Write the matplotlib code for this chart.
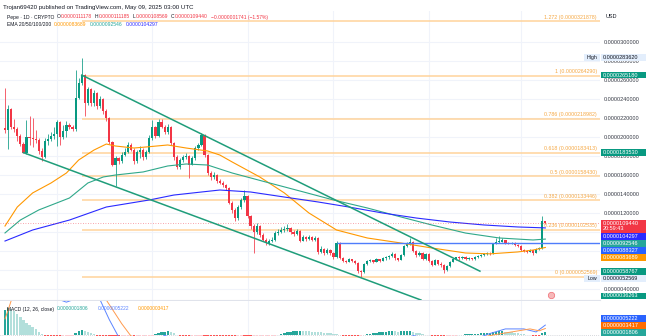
import matplotlib
matplotlib.use("Agg")
import matplotlib.pyplot as plt
import matplotlib.transforms as mtransforms
from matplotlib.patches import Rectangle
import numpy as np
import pandas as pd

plt.rcParams["font.family"] = ["Liberation Sans", "DejaVu Sans"]

# Pepe daily candles, prices in millionths of USD (11.1178 -> 0.0000111178)
first_open = 20.9
closes = [
    20.7, 22.9, 21.0, 20.8, 20.1, 19.3, 18.3, 20.0, 19.9, 19.8,
    19.7, 18.5, 17.9, 19.6, 19.8, 20.1, 20.3, 21.6, 20.0, 20.6,
    21.3, 21.0, 20.8, 24.1, 25.7, 26.5, 23.6, 25.0, 23.6, 24.6,
    23.3, 24.0, 22.7, 22.0, 19.5, 17.1, 17.8, 17.5, 18.1, 18.4,
    19.2, 18.6, 17.5, 18.4, 18.6, 17.9, 18.4, 19.9, 21.0, 20.1,
    21.6, 21.1, 20.5, 21.1, 19.4, 17.9, 16.8, 17.6, 17.9, 18.0,
    17.1, 17.8, 18.8, 19.2, 20.2, 18.1, 16.2, 15.8, 16.0, 15.4,
    15.2, 14.9, 14.6, 13.1, 12.3, 11.5, 12.6, 13.4, 13.8, 11.7,
    10.6, 10.0, 10.6, 9.7, 9.2, 8.8, 9.1, 9.2, 9.9, 10.0,
    10.2, 10.3, 10.4, 10.0, 9.8, 10.1, 9.1, 9.5, 9.3, 9.5,
    9.2, 9.4, 7.9, 8.2, 7.8, 8.1, 7.8, 7.4, 8.83, 7.3,
    6.95, 6.85, 7.15, 6.95, 6.75, 5.9, 5.8, 6.6, 6.95, 7.05,
    6.85, 7.15, 6.95, 7.25, 7.35, 7.45, 7.7, 7.25, 7.05, 7.6,
    8.5, 8.75, 8.95, 8.0, 7.6, 7.8, 7.15, 7.7, 6.95, 6.55,
    7.05, 6.65, 6.5, 6.0, 6.4, 6.85, 7.15, 7.35, 7.25, 7.4,
    7.15, 7.25, 7.15, 7.35, 7.45, 7.55, 7.7, 7.8, 7.75, 8.75,
    8.95, 8.95, 9.15, 8.85, 8.8, 8.85, 8.65, 8.55, 8.1, 8.0,
    7.9, 8.1, 7.8, 8.2, 8.3, 11.1178, 10.944,
]
highs = [
    25.2, 23.4, 23.1, 21.9, 21.0, 20.3, 19.5, 21.8, 22.2, 22.0,
    20.7, 19.9, 18.8, 19.9, 20.3, 20.5, 21.1, 21.8, 21.7, 21.3,
    21.7, 21.5, 21.3, 27.0, 26.2, 28.362, 26.6, 25.3, 25.2, 24.9,
    24.7, 24.3, 24.1, 22.9, 22.1, 19.6, 18.0, 17.9, 18.4, 18.8,
    19.5, 19.4, 18.8, 18.6, 19.0, 18.8, 18.6, 20.2, 21.8, 21.2,
    21.9, 21.9, 21.3, 21.4, 21.2, 19.5, 18.1, 17.8, 18.1, 18.3,
    18.1, 18.0, 19.0, 19.4, 20.4, 20.3, 18.2, 16.4, 16.3, 16.1,
    15.6, 15.4, 15.1, 14.7, 13.3, 12.5, 12.8, 13.6, 14.4, 13.9,
    11.8, 10.8, 10.9, 10.7, 9.9, 9.4, 9.3, 9.5, 10.1, 10.3,
    10.5, 10.6, 10.8, 10.5, 10.2, 10.3, 10.2, 9.7, 9.6, 9.7,
    9.6, 9.6, 9.5, 8.5, 8.3, 8.3, 8.2, 7.9, 9.0, 8.9,
    7.4, 7.1, 7.3, 7.2, 7.0, 6.8, 6.0, 6.7, 7.1, 7.2,
    7.1, 7.3, 7.2, 7.4, 7.5, 7.6, 7.9, 7.8, 7.3, 7.7,
    8.6, 8.9, 9.4, 9.0, 8.1, 8.0, 7.9, 7.8, 7.75, 7.0,
    7.2, 7.1, 6.8, 6.6, 6.5, 6.9, 7.2, 7.4, 7.45, 7.5,
    7.45, 7.35, 7.3, 7.45, 7.55, 7.65, 7.8, 7.9, 7.9, 8.85,
    9.4, 9.6, 9.4, 9.2, 8.95, 8.95, 8.9, 8.7, 8.6, 8.2,
    8.1, 8.2, 8.15, 8.3, 8.45, 11.7, 11.1185,
]
lows = [
    20.4, 18.7, 20.8, 20.5, 19.6, 19.0, 18.35, 18.2, 19.2, 18.9,
    19.4, 18.2, 17.5, 17.8, 19.2, 19.6, 19.8, 19.0, 19.2, 19.8,
    20.0, 20.8, 20.6, 20.6, 24.0, 25.5, 22.2, 23.4, 23.3, 23.3,
    22.9, 23.0, 22.4, 21.7, 19.3, 16.9, 14.8, 17.2, 17.3, 18.0,
    18.3, 18.5, 17.2, 17.3, 17.8, 17.6, 17.7, 18.3, 19.7, 19.9,
    20.0, 20.9, 20.3, 20.3, 19.2, 17.6, 16.6, 16.6, 17.4, 17.7,
    15.7, 17.0, 17.6, 18.6, 19.0, 17.9, 16.0, 15.5, 15.6, 15.2,
    15.0, 14.7, 14.4, 12.9, 12.0, 11.2, 11.3, 12.4, 13.2, 11.5,
    10.3, 7.8, 9.8, 9.5, 9.0, 8.6, 8.6, 8.9, 9.1, 9.7,
    9.9, 10.0, 10.1, 9.8, 9.6, 9.7, 8.9, 9.0, 9.1, 9.2,
    9.0, 9.1, 7.7, 7.8, 7.6, 7.7, 7.6, 7.2, 7.3, 7.2,
    6.8, 6.7, 6.8, 6.8, 6.6, 5.7, 5.2569, 5.7, 6.5, 6.8,
    6.7, 6.8, 6.8, 6.9, 7.1, 7.2, 7.4, 7.1, 6.9, 7.0,
    7.5, 8.4, 8.6, 7.9, 7.4, 7.5, 7.0, 7.1, 6.8, 6.4,
    6.5, 6.5, 6.3, 5.7, 5.9, 6.3, 6.8, 7.1, 7.1, 7.2,
    7.05, 7.05, 7.05, 7.1, 7.3, 7.4, 7.5, 7.6, 7.6, 7.7,
    8.7, 8.8, 8.9, 8.75, 8.7, 8.7, 8.55, 8.4, 8.0, 7.9,
    7.8, 7.85, 7.6, 7.75, 8.1, 8.2, 10.8569,
]
dates = pd.date_range("2024-11-14", periods=len(closes), freq="D")

# EMA lines read at sample days (index of the candle)
ema50_days = [0, 4, 9, 15, 20, 24, 29, 33, 36, 42, 46, 53, 59, 66, 70, 74,
              83, 91, 99, 108, 118, 129, 139, 150, 158, 167, 172, 176]
ema50 = [10.63, 12.63, 14.11, 15.16, 16.21, 17.58, 18.63, 19.26, 19.05, 18.84,
         18.95, 19.16, 18.84, 18.53, 18.1, 17.37, 15.79, 14.11, 12.0, 10.21,
         9.37, 8.84, 8.32, 7.79, 7.7, 7.9, 8.1, 8.3689]
ema100_days = [0, 5, 11, 21, 27, 32, 36, 45, 53, 59, 66, 74, 85, 96, 107,
               118, 129, 139, 150, 161, 172, 176]
ema100 = [9.9, 11.26, 12.32, 13.58, 15.16, 15.79, 16.0, 16.32, 16.95, 17.16,
          17.05, 16.21, 15.26, 14.32, 13.37, 12.53, 11.58, 10.74, 9.89, 9.37,
          9.16, 9.2546]
ema200_days = [0, 9, 21, 33, 47, 55, 64, 70, 80, 91, 102, 112, 123, 134,
               145, 156, 167, 176]
ema200 = [9.05, 10.21, 11.26, 12.63, 13.37, 13.89, 14.21, 14.42, 14.21, 13.68,
          13.16, 12.63, 12.0, 11.47, 11.05, 10.74, 10.53, 10.4297]

# drawings
fib_ratios = [1.272, 1, 0.786, 0.618, 0.5, 0.382, 0.236, 0]
fib_prices = [32.1878, 26.429, 21.8982, 18.3413, 15.843, 13.3446, 10.2535, 5.2569]
fib_start_day = 25
upper_line_days = [25, 154.7]
upper_line_prices = [26.518, 5.8767]
lower_line_days = [6, 135.5]
lower_line_prices = [18.353, 2.84]
hline_day = 108
hline_price = 8.8327
last_price = 10.944

# MACD (12, 26, close), units of 1e-7
macd_hist = [
    13, 14, 13.5, 12.5, 11, 9.5, 8, 6.5, 5, 4,
    3, 1.8, 0.6, -0.5, -1, -1.5, -1.8, -2, -2.2, -2,
    -1.8, -1.5, -1, 1.1, 1.9, 2.4, 1.9, 1.6, 1.0, 0.4,
    -0.3, -0.8, -1.5, -2.2, -3, -3.8, -4, -4, -3.8, -3.4,
    -3, -2.8, -2.8, -2.5, -2.2, -2, -1.7, -1.2, -0.5, 0.4,
    1.1, 1.5, 1.8, 2.1, 1.6, 1.0, 0.2, -0.5, -0.9, -1.1,
    -1.3, -1.2, -1, -0.8, -0.3, -0.6, -1.5, -2.5, -3.2, -3.8,
    -4.2, -4.5, -5, -5.5, -6, -6.5, -6.3, -6, -6.2, -6.8,
    -6.8, -6.5, -5.8, -5.0, -4.2, -3.4, -2.5, -1.6, -0.7, 0.2,
    0.7, 1.1, 1.5, 1.8, 2.0, 2.15, 2.2, 2.1, 2.0, 1.9,
    1.8, 1.7, 1.55, 1.4, 1.2, 1.0, 0.8, 0.6, 0.4, -0.2,
    -0.5, -0.8, -0.9, -1.0, -1.1, -1.3, -0.9, 0.1, 0.45, 0.75,
    1.0, 1.2, 1.4, 1.55, 1.7, 1.85, 2.0, 1.9, 1.75, 1.85,
    2.1, 2.2, 2.3, 1.8, 1.3, 0.8, 0.5, 0.2, -0.2, -0.6,
    -1.0, -1.3, -1.5, -1.8, -1.6, -1.2, -0.8, -0.4, -0.1, 0.15,
    0.3, 0.45, 0.55, 0.65, 0.75, 0.9, 1.05, 1.15, 1.2, 1.5,
    1.75, 1.85, 1.95, 1.8, 1.65, 1.5, 1.25, 1.05, 0.7, 0.45,
    0.15, -0.1, -0.5, -0.6, -0.6, 1.2, 1.806,
]
macd_days = [0, 5, 12, 17, 20, 23, 26, 29, 31, 34, 37, 40, 45, 50, 52, 55, 60,
             70, 80, 90, 100, 110, 120, 130, 133, 138, 145, 150, 155, 158, 163,
             169, 173, 176]
macd_line = [21.5, 23.5, 20, 19, 17.3, 19, 24, 22, 18.4, 8, -1, -6, -8, -2,
             -0.2, -2, -6, -14, -38, -42, -24, -15, -9, -2.5, -0.3, -2, -5,
             -3.5, -1, 0.8, 3.2, 3.2, 1.6, 5.222]
signal_days = [0, 1, 2, 5, 15, 25, 30, 33, 36, 38, 41, 50, 60, 80, 100, 120,
               140, 150, 156, 159, 165, 171, 174, 176]
signal_line = [8.5, 13, 18, 22, 22, 21, 21, 18.4, 11, 6, -0.5, -7, -8, -30,
               -35, -12, -4, -3, -1, 0, 1.6, 3.2, 2.2, 3.417]

GREEN = "#089981"
RED = "#f23645"
ORANGE = "#ff9800"
TEAL = "#26a69a"
BLUE = "#2a2aff"
LBLUE = "#2962ff"
DARK = "#131722"
GRID = "#f0f3fa"

W, H = 650, 336
fig = plt.figure(figsize=(W / 100, H / 100), dpi=100)
fig.patch.set_facecolor("white")
ax = fig.add_axes([0, 1 - 300 / H, 600 / W, 289 / H])
mx = fig.add_axes([0, 0, 600 / W, 35 / H])

n = len(closes)
x = np.arange(n)
c = np.array(closes)
o = np.r_[first_open, c[:-1]]
hi = np.array(highs)
lo = np.array(lows)
col = np.where(c >= o, GREEN, RED)

month_idx = [i for i, d in enumerate(dates) if d.day == 1]
xlim = (-5 / 3.07, 595 / 3.07)

for a in (ax, mx):
    a.set_xlim(*xlim)
    for s in a.spines.values():
        s.set_visible(False)
    a.set_xticks(month_idx)
    a.tick_params(axis="x", length=0, labelbottom=False)
    a.grid(True, color=GRID, lw=0.8, zorder=0)
    a.set_axisbelow(True)

ax.spines["bottom"].set_visible(True)
ax.spines["bottom"].set_color("#e0e3eb")
ax.spines["bottom"].set_linewidth(0.8)

# price scale
ax.set_ylim(2.842, 33.263)
yt = list(range(4, 31, 2))
ax.set_yticks(yt)
ax.set_yticklabels([f"{v / 1e6:.10f}" for v in yt])
ax.yaxis.tick_right()
ax.tick_params(axis="y", length=0, labelsize=4.0, labelcolor="#363a45", pad=2.9)
mx.set_ylim(-0.53, 17.9)
mx.set_yticks([])

# fibonacci retracement
ax.hlines(fib_prices, fib_start_day, xlim[1], colors="#ffd39b", lw=1.1, zorder=1)
for r, p in zip(fib_ratios, fib_prices):
    ax.annotate(f"{r:g} ({p / 1e6:.10f})", xy=((597 - 5) / 3.07, p),
                xytext=(0, 1.2), textcoords="offset points", ha="right",
                va="bottom", fontsize=3.8, color="#f5a742", zorder=5)

# candles
ax.vlines(x, lo, hi, colors=col, lw=0.55, zorder=2)
ax.bar(x, np.maximum(np.abs(c - o), 0.06), bottom=np.minimum(o, c), width=0.72,
       color=col, lw=0, zorder=2)

# EMAs
ax.plot(ema50_days, ema50, color=ORANGE, lw=0.8, zorder=3)
ax.plot(ema100_days, ema100, color="#2fa88a", lw=0.8, zorder=3)
ax.plot(ema200_days, ema200, color=BLUE, lw=0.8, zorder=3)

# lines drawn by the author
ax.hlines(hline_price, hline_day, xlim[1], colors="#4f7dfb", lw=1.0, zorder=3)
ax.plot(upper_line_days, upper_line_prices, color="#1f9d7a", lw=1.1, zorder=4)
ax.plot(lower_line_days, lower_line_prices, color="#1f9d7a", lw=1.1, zorder=4)
ax.axhline(last_price, color=RED, lw=0.6, ls=(0, (1, 2)), alpha=0.6, zorder=3)

# event marker
blend = mtransforms.blended_transform_factory(ax.transData, ax.transAxes)
ax.plot([178], [0.016], "o", transform=blend, ms=4.6, mfc="#f7b8b8",
        mec="#ef6b73", mew=0.5, clip_on=False, zorder=6)

# MACD pane
hist = np.array(macd_hist)
prev = np.r_[hist[0] - 1, hist[:-1]]
hcol = np.where(hist >= 0, np.where(hist > prev, "#26a69a", "#b2dfdb"),
                np.where(hist > prev, "#ffcdd2", "#ff5252"))
mx.bar(x, hist, width=0.75, color=hcol, lw=0, zorder=2)
mx.axhline(0, color="#b2b5be", lw=0.5, ls=(0, (1, 2)), zorder=1)
mx.plot(macd_days, macd_line, color="#5b84ff", lw=0.7, zorder=3)
mx.plot(signal_days, signal_line, color="#ff9a4d", lw=0.7, zorder=3)


def text_row(x_px, y_px, parts, size):
    r = fig.canvas.get_renderer()
    for s, color, gap in parts:
        t = fig.text(x_px / W, 1 - y_px / H, s, color=color, fontsize=size,
                     ha="left", va="center", zorder=10)
        x_px += t.get_window_extent(r).width + gap


text_row(3, 7, [("Trojan69420 published on TradingView.com, May 09, 2025 03:00 UTC", DARK, 0)], 4.4)
text_row(7, 17, [("Pepe · 1D · CRYPTO", DARK, 2),
                 ("O", DARK, 0.3), ("0.0000111178", RED, 3),
                 ("H", DARK, 0.3), ("0.0000111185", RED, 3),
                 ("L", DARK, 0.3), ("0.0000108569", RED, 3),
                 ("C", DARK, 0.3), ("0.0000109440", RED, 3),
                 ("\u22120.0000001741 (\u22121.57%)", RED, 0)], 3.6)
text_row(7, 25, [("EMA 20/50/100/200", DARK, 3), ("0.0000083689", ORANGE, 3),
                 ("0.0000092546", TEAL, 3), ("0.0000104297", BLUE, 0)], 3.6)
text_row(7, 309, [("MACD (12, 26, close)", DARK, 3), ("0.0000001806", TEAL, 9),
                  ("0.0000005222", "#5b84ff", 9), ("0.0000003417", ORANGE, 0)], 3.5)
fig.text(606 / W, 1 - 17 / H, "USD", fontsize=4.0, color=DARK, va="center")

TAG_H = 6.7


def stack_tags(axis, tags, bottom_px=None):
    placed = []
    prev_bottom = -1e9
    for value, label, bg, fg in sorted(tags, key=lambda t: -t[0]):
        centre = H - axis.transData.transform((0, value))[1]
        lines = label.count("\n") + 1
        top = max(centre - TAG_H / 2, prev_bottom + 0.3)
        prev_bottom = top + TAG_H * lines
        placed.append([top, lines, value, label, bg, fg])
    if bottom_px is not None and prev_bottom > bottom_px:
        shift = prev_bottom - bottom_px
        for p in placed:
            p[0] -= shift
    out = {}
    for top, lines, value, label, bg, fg in placed:
        out[value] = top
        if bg is None:
            continue
        h = TAG_H * lines
        fig.add_artist(Rectangle((601 / W, 1 - (top + h) / H), 45 / W, h / H,
                                 transform=fig.transFigure, color=bg, lw=0, zorder=9))
        fig.text(603 / W, 1 - (top + h / 2) / H, label, fontsize=4.0, color=fg,
                 ha="left", va="center", linespacing=1.05, zorder=10)
    return out


main_tags = [
    (28.362, "0.0000283620", "#e3eefc", DARK),
    (26.518, "0.0000265180", GREEN, "white"),
    (18.353, "0.0000183530", GREEN, "white"),
    (last_price, "0.0000109440\n20:59:43", RED, "white"),
    (10.4297, "0.0000104297", BLUE, "white"),
    (9.2546, "0.0000092546", TEAL, "white"),
    (hline_price, "0.0000088327", LBLUE, "white"),
    (8.3689, "0.0000083689", ORANGE, "white"),
    (5.8767, "0.0000058767", GREEN, "white"),
    (5.2569, "0.0000052569", "#e3eefc", DARK),
    (4.0, "0.0000040000", None, None),
    (3.6263, "0.0000036263", GREEN, "white"),
]
tops = stack_tags(ax, main_tags)
for word, value in (("High", 28.362), ("Low", 5.2569)):
    top = tops[value]
    fig.add_artist(Rectangle((584 / W, 1 - (top + TAG_H) / H), 16 / W, TAG_H / H,
                             transform=fig.transFigure, color="#e3eefc", lw=0, zorder=9))
    fig.text(592 / W, 1 - (top + TAG_H / 2) / H, word, fontsize=3.8, color=DARK,
             ha="center", va="center", zorder=10)

macd_tags = [
    (5.222, "0.0000005222", LBLUE, "white"),
    (3.417, "0.0000003417", "#ff6d00", "white"),
    (1.806, "0.0000001806", TEAL, "white"),
]
stack_tags(mx, macd_tags, bottom_px=335.5)

fig.savefig("out.png", dpi=100)
